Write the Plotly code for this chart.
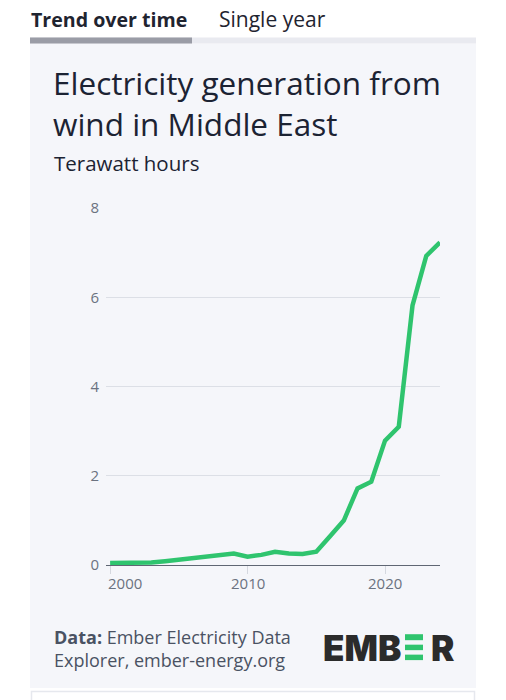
import plotly.graph_objects as go

W, H = 506, 700

years = list(range(2000, 2025))
wind_twh = [0.05, 0.05, 0.05, 0.06, 0.09, 0.12, 0.17, 0.18, 0.23, 0.26,
            0.19, 0.23, 0.30, 0.26, 0.25, 0.30, 0.65, 1.00, 1.72, 1.87,
            2.79, 3.10, 5.82, 6.93, 7.23]
y_ticks = [0, 2, 4, 6, 8]
x_ticks = [2000, 2010, 2020]

TITLE = "Electricity generation from<br>wind in Middle East"
SUBTITLE = "Terawatt hours"
SOURCE = "<b>Data:</b> Ember Electricity Data<br>Explorer, ember-energy.org"

# empirical correction for the vertical offset/scale seen in the rendered page
Y_OFF, Y_SCALE = 9.5, 0.975

def px(x):
    return x / W

def py(y):
    spec = (y - Y_OFF) / Y_SCALE
    return 1 - spec / H

FONT = "Open Sans"
GREEN = "#2fc46e"

fig = go.Figure()
fig.add_trace(go.Scatter(
    x=years, y=wind_twh, mode="lines",
    line=dict(color=GREEN, width=4.5, shape="linear"),
    cliponaxis=False, hoverinfo="x+y", showlegend=False,
))

shapes = [
    dict(type="rect", xref="paper", yref="paper", x0=px(30), x1=px(476), y0=py(689), y1=py(42),
         fillcolor="#f5f6fa", line=dict(width=0), layer="below"),
    dict(type="rect", xref="paper", yref="paper", x0=px(30), x1=px(476), y0=py(42), y1=py(36),
         fillcolor="#e9eaf0", line=dict(width=0), layer="below"),
    dict(type="rect", xref="paper", yref="paper", x0=px(30), x1=px(192), y0=py(42), y1=py(36),
         fillcolor="#9a9ca6", line=dict(width=0), layer="below"),
    dict(type="rect", xref="paper", yref="paper", x0=px(31.5), x1=px(474.5), y0=py(720), y1=py(692.5),
         fillcolor="#ffffff", line=dict(width=1.5, color="#e6e8ee"), layer="below"),
]
for (a, b) in [(635, 641), (645.5, 651), (655.5, 661)]:
    shapes.append(dict(type="rect", xref="paper", yref="paper", x0=px(405), x1=px(423),
                       y0=py(b), y1=py(a), fillcolor=GREEN, line=dict(width=0)))

annotations = [
    dict(text="<b>Trend over time</b>", x=px(29), y=py(18), xanchor="left", yanchor="middle",
         font=dict(family=FONT, size=19.6, color="#1f2430")),
    dict(text="Single year", x=px(217), y=py(18), xanchor="left", yanchor="middle",
         font=dict(family=FONT, size=21, color="#1f2430")),
    dict(text=TITLE, x=px(51), y=py(102), xanchor="left", yanchor="middle", align="left",
         font=dict(family=FONT, size=31.5, color="#1c2333")),
    dict(text=SUBTITLE, x=px(52), y=py(162), xanchor="left", yanchor="middle",
         font=dict(family=FONT, size=20.5, color="#1c2333")),
    dict(text=SOURCE, x=px(52), y=py(649.3), xanchor="left", yanchor="middle", align="left",
         font=dict(family=FONT, size=18, color="#4a5263")),
    dict(text="EMB", x=px(321), y=py(648.5), xanchor="left", yanchor="middle",
         font=dict(family="Inter", size=35, weight=900, color="#2b2b2b")),
    dict(text="R", x=px(429), y=py(648.5), xanchor="left", yanchor="middle",
         font=dict(family="Inter", size=35, weight=900, color="#2b2b2b")),
]
for i, t in enumerate(x_ticks):
    annotations.append(dict(
        text=str(t), xref="x", yref="paper", x=(1999.7 if i == 0 else t), y=py(584),
        xanchor=("left" if i == 0 else "center"), yanchor="middle", showarrow=False,
        font=dict(family=FONT, size=15, color="#6b7280")))

for a in annotations:
    a.setdefault("xref", "paper")
    a.setdefault("yref", "paper")
    a["showarrow"] = False

fig.update_layout(
    width=W, height=H, margin=dict(l=0, r=0, t=0, b=0),
    paper_bgcolor="#ffffff", plot_bgcolor="rgba(0,0,0,0)",
    shapes=shapes, annotations=annotations, showlegend=False,
    xaxis=dict(domain=[px(106), px(440)], range=[1999.7, 2024], tickvals=x_ticks,
               showticklabels=False, ticks="outside", ticklen=8, tickcolor="#d5d8df",
               showgrid=False, zeroline=False, showline=True, linecolor="#5f6673", linewidth=1),
    yaxis=dict(domain=[py(565.7), py(207.3)], range=[0, 8], tickvals=y_ticks,
               showgrid=True, gridcolor="#dcdfe6", gridwidth=1, zeroline=False,
               ticks="", ticklabelstandoff=6,
               tickfont=dict(family=FONT, size=15, color="#6b7280")),
)

fig.write_html("out.html")
